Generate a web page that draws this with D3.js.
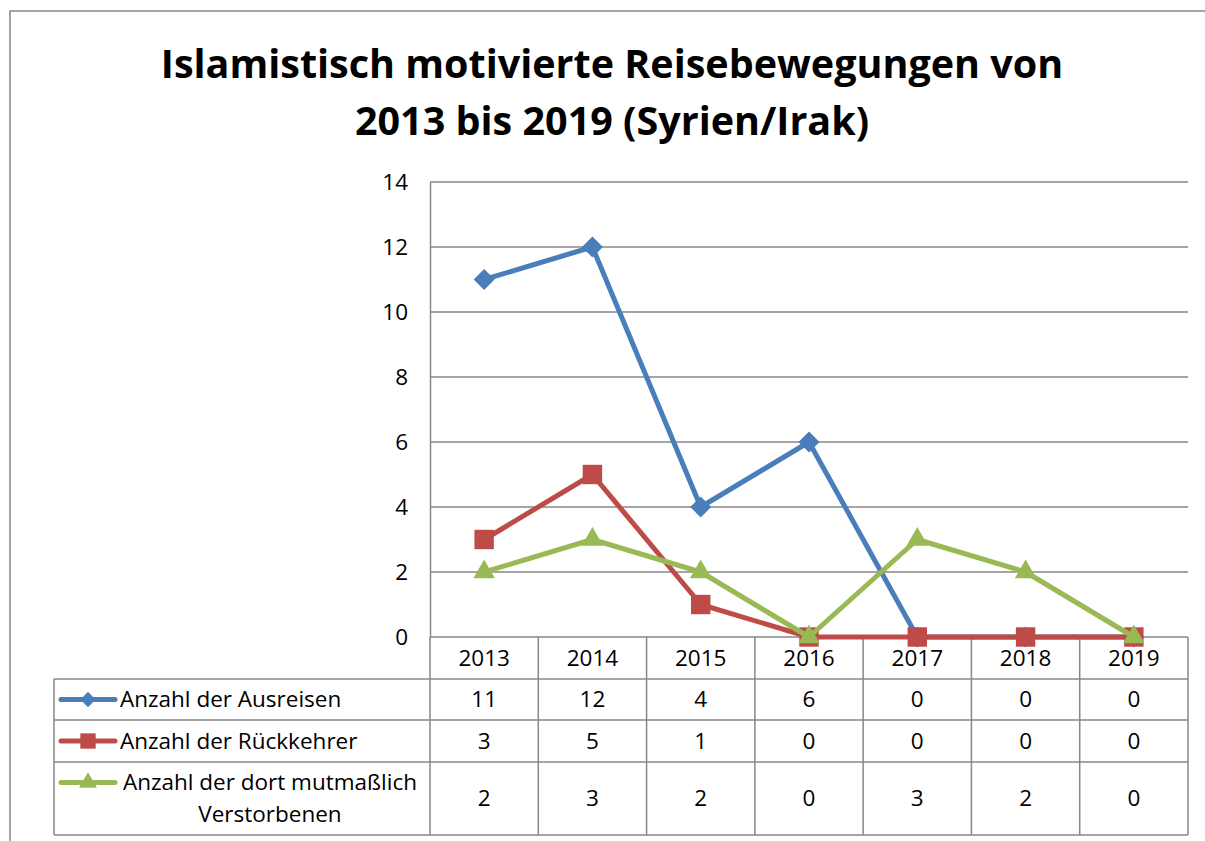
<!DOCTYPE html>
<html>
<head>
<meta charset="utf-8">
<script src="https://cdn.jsdelivr.net/npm/d3@7"></script>
<style>
  body { margin: 0; background: #fff; }
  svg { display: block; font-family: "Open Sans", sans-serif; }
</style>
</head>
<body>
<svg width="1205" height="841"></svg>
<script>
const years = ['2013', '2014', '2015', '2016', '2017', '2018', '2019'];
const ausreisen = [11, 12, 4, 6, 0, 0, 0];
const rueckkehrer = [3, 5, 1, 0, 0, 0, 0];
const verstorbene = [2, 3, 2, 0, 3, 2, 0];
const seriesNames = ['Anzahl der Ausreisen', 'Anzahl der Rückkehrer', 'Anzahl der dort mutmaßlich|Verstorbenen'];
const yTicks = [0, 2, 4, 6, 8, 10, 12, 14];

const series = [
  { name: seriesNames[0], values: ausreisen, color: '#4A7EBB', symbol: d3.symbolDiamond2, size: 280, keySize: 150 },
  { name: seriesNames[1], values: rueckkehrer, color: '#BE4B48', symbol: d3.symbolSquare2, size: 480, keySize: 300 },
  { name: seriesNames[2], values: verstorbene, color: '#98B954', symbol: d3.symbolTriangle2, size: 330, keySize: 230 }
];

const svg = d3.select('svg');
const grid = '#878787';
const fs = 22.5;

// outer frame
svg.append('path')
  .attr('d', 'M10,841 V11 H1205')
  .attr('fill', 'none').attr('stroke', grid).attr('stroke-width', 1.5);

// title
const title = svg.append('text')
  .attr('text-anchor', 'middle')
  .attr('font-weight', 'bold')
  .attr('font-size', 39.5)
  .attr('fill', '#000');
title.append('tspan').attr('x', 612).attr('y', 78).text('Islamistisch motivierte Reisebewegungen von');
title.append('tspan').attr('x', 612).attr('y', 135).text('2013 bis 2019 (Syrien/Irak)');

const plotLeft = 430, plotRight = 1188, plotTop = 182, plotBottom = 637;
const x = d3.scaleBand().domain(years).range([plotLeft, plotRight]);
const y = d3.scaleLinear().domain([0, 14]).range([plotBottom, plotTop]);

// gridlines
svg.append('g')
  .selectAll('line')
  .data(yTicks)
  .join('line')
  .attr('x1', plotLeft).attr('x2', plotRight)
  .attr('y1', d => y(d)).attr('y2', d => y(d))
  .attr('stroke', grid).attr('stroke-width', 1.5);

// y axis
const yAxis = svg.append('g')
  .attr('transform', `translate(${plotLeft},0)`)
  .call(d3.axisLeft(y).tickValues(yTicks).tickSize(0).tickPadding(22));
yAxis.select('.domain').attr('stroke', grid).attr('stroke-width', 1.5);
yAxis.selectAll('text').attr('font-size', fs).attr('font-family', '"Open Sans", sans-serif').attr('fill', '#000');

// data table
const rowEdges = [637, 679, 720, 762, 835];
const tableLeft = 54;
const tg = svg.append('g').attr('stroke', grid).attr('stroke-width', 1.5).attr('fill', 'none');
rowEdges.slice(1).forEach(ry => {
  tg.append('line').attr('x1', tableLeft).attr('x2', plotRight).attr('y1', ry).attr('y2', ry);
});
tg.append('line').attr('x1', tableLeft).attr('x2', tableLeft).attr('y1', rowEdges[1]).attr('y2', rowEdges[4]);
years.forEach(yr => {
  tg.append('line').attr('x1', x(yr)).attr('x2', x(yr)).attr('y1', plotBottom).attr('y2', rowEdges[4]);
});
tg.append('line').attr('x1', plotRight).attr('x2', plotRight).attr('y1', plotBottom).attr('y2', rowEdges[4]);

// year labels
svg.append('g').selectAll('text').data(years).join('text')
  .attr('x', d => x(d) + x.bandwidth() / 2)
  .attr('y', (rowEdges[0] + rowEdges[1]) / 2)
  .attr('dy', '0.35em')
  .attr('text-anchor', 'middle')
  .attr('font-size', fs)
  .text(d => d);

// table values + legend keys
series.forEach((s, si) => {
  const cy = (rowEdges[si + 1] + rowEdges[si + 2]) / 2;
  svg.append('g').selectAll('text').data(s.values).join('text')
    .attr('x', (d, i) => x(years[i]) + x.bandwidth() / 2)
    .attr('y', cy)
    .attr('dy', '0.35em')
    .attr('text-anchor', 'middle')
    .attr('font-size', fs)
    .text(d => d);

  const lines = s.name.split('|');
  const keyY = lines.length > 1 ? cy - 16 : cy;
  svg.append('line')
    .attr('x1', 61).attr('x2', 115).attr('y1', keyY).attr('y2', keyY)
    .attr('stroke', s.color).attr('stroke-width', 5).attr('stroke-linecap', 'round');
  svg.append('path')
    .attr('d', d3.symbol(s.symbol, s.keySize)())
    .attr('transform', `translate(88,${keyY})`)
    .attr('fill', s.color);
  const t = svg.append('text').attr('font-size', fs);
  lines.forEach((ln, li) => {
    t.append('tspan')
      .attr('x', lines.length > 1 ? 270 : 120)
      .attr('text-anchor', lines.length > 1 ? 'middle' : 'start')
      .attr('y', keyY + li * 32)
      .attr('dy', '0.35em')
      .text(ln);
  });
});

// lines and markers
const line = d3.line()
  .x((d, i) => x(years[i]) + x.bandwidth() / 2)
  .y(d => y(d));

series.forEach(s => {
  svg.append('path')
    .datum(s.values)
    .attr('d', line)
    .attr('fill', 'none')
    .attr('stroke', s.color)
    .attr('stroke-width', 5)
    .attr('stroke-linejoin', 'round');
  svg.append('g').selectAll('path').data(s.values).join('path')
    .attr('d', d3.symbol(s.symbol, s.size)())
    .attr('transform', (d, i) => `translate(${x(years[i]) + x.bandwidth() / 2},${y(d)})`)
    .attr('fill', s.color);
});
</script>
</body>
</html>
